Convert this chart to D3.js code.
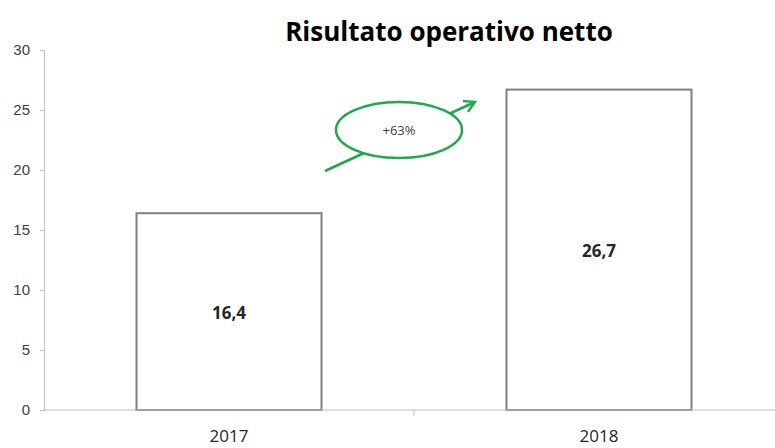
<!DOCTYPE html>
<html lang="it">
<head>
	<meta charset="UTF-8">
	<title>Risultato operativo netto</title>
	<script src="https://d3js.org/d3.v7.min.js"></script>
	<style>
		body, html {
			margin: 0;
			padding: 0;
			background: #fff;
			overflow: hidden;
		}
		svg {
			display: block;
			font-family: "Open Sans", "DejaVu Sans", sans-serif;
		}
	</style>
</head>
<body>
<div id="chart"></div>
<script>
	// data
	const years = ["2017", "2018"];
	const values = [16.4, 26.7];
	const valueLabels = ["16,4", "26,7"];
	const yTicks = [0, 5, 10, 15, 20, 25, 30];
	const growthLabel = "+63%";

	const width = 775;
	const height = 448;
	const margin = { top: 50, left: 44, bottom: 38 };

	const svg = d3.select("#chart")
		.append("svg")
		.attr("width", width)
		.attr("height", height);

	// plot area runs a bit past the right edge, the original is cropped there
	const x = d3.scaleBand()
		.domain(years)
		.range([margin.left, 784])
		.paddingInner(0.5)
		.paddingOuter(0.25);

	const y = d3.scaleLinear()
		.domain([0, 30])
		.range([height - margin.bottom, margin.top]);

	// y axis
	const yAxis = svg.append("g")
		.attr("transform", `translate(${margin.left},0)`)
		.call(d3.axisLeft(y).tickValues(yTicks).tickSize(4).tickPadding(10));
	yAxis.select(".domain").attr("stroke", "#bfbfbf");
	yAxis.selectAll(".tick line").attr("stroke", "#bfbfbf");
	yAxis.selectAll(".tick text")
		.attr("fill", "#404040")
		.style("font-size", "15px")
		.style("font-family", "inherit");

	// bars
	svg.selectAll(".bar")
		.data(values)
		.enter()
		.append("rect")
		.attr("class", "bar")
		.attr("x", (d, i) => x(years[i]))
		.attr("y", d => y(d))
		.attr("width", x.bandwidth())
		.attr("height", d => y(0) - y(d))
		.attr("fill", "#fff")
		.attr("stroke", "#7f7f7f")
		.attr("stroke-width", 2);

	// x axis, drawn over the bar bottoms
	const xAxis = svg.append("g")
		.attr("transform", `translate(0,${y(0)})`);
	xAxis.append("line")
		.attr("x1", margin.left)
		.attr("x2", width)
		.attr("stroke", "#bfbfbf");
	// separator tick between the two categories
	xAxis.append("line")
		.attr("x1", x.step() + margin.left)
		.attr("x2", x.step() + margin.left)
		.attr("y1", 0)
		.attr("y2", 6)
		.attr("stroke", "#bfbfbf");
	xAxis.selectAll(".year")
		.data(years)
		.enter()
		.append("text")
		.attr("class", "year")
		.attr("x", d => x(d) + x.bandwidth() / 2)
		.attr("y", 32)
		.attr("text-anchor", "middle")
		.attr("fill", "#262626")
		.style("font-size", "17px")
		.text(d => d);

	// value labels in the middle of each bar
	svg.selectAll(".value")
		.data(values)
		.enter()
		.append("text")
		.attr("class", "value")
		.attr("x", (d, i) => x(years[i]) + x.bandwidth() / 2)
		.attr("y", d => (y(d) + y(0)) / 2 + 7)
		.attr("text-anchor", "middle")
		.attr("fill", "#262626")
		.style("font-size", "17px")
		.style("font-weight", "bold")
		.text((d, i) => valueLabels[i]);

	// title
	svg.append("text")
		.attr("x", 449)
		.attr("y", 41)
		.attr("text-anchor", "middle")
		.attr("fill", "#000")
		.style("font-size", "26px")
		.style("font-weight", "bold")
		.text("Risultato operativo netto");

	// growth arrow with the ellipse on top of it
	const green = "#1fa84f";
	const defs = svg.append("defs");
	defs.append("marker")
		.attr("id", "head")
		.attr("viewBox", "0 0 10 10")
		.attr("refX", 8)
		.attr("refY", 5)
		.attr("markerWidth", 6)
		.attr("markerHeight", 6)
		.attr("orient", "auto")
		.append("path")
		.attr("d", "M1,1 L8,5 L1,9")
		.attr("fill", "none")
		.attr("stroke", green)
		.attr("stroke-width", 1.6);

	svg.append("line")
		.attr("x1", 325)
		.attr("y1", 171)
		.attr("x2", 475)
		.attr("y2", 102)
		.attr("stroke", green)
		.attr("stroke-width", 2.5)
		.attr("marker-end", "url(#head)");

	svg.append("ellipse")
		.attr("cx", 399)
		.attr("cy", 130)
		.attr("rx", 63)
		.attr("ry", 28)
		.attr("fill", "#fff")
		.attr("stroke", green)
		.attr("stroke-width", 2.5);

	svg.append("text")
		.attr("x", 399)
		.attr("y", 135)
		.attr("text-anchor", "middle")
		.attr("fill", "#404040")
		.style("font-size", "13px")
		.text(growthLabel);
</script>
</body>
</html>
